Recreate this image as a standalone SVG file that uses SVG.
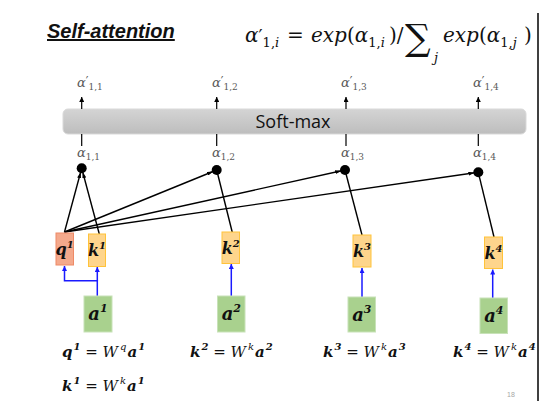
<svg xmlns="http://www.w3.org/2000/svg" width="543" height="401" viewBox="0 0 543 401">
<style>
.title{font-family:"Liberation Sans",Arial,sans-serif;font-weight:bold;font-style:italic;font-size:20px;fill:#111;text-decoration:underline}
.f{font-family:"DejaVu Serif",serif;font-style:italic;font-size:20px;fill:#111}
.fs{font-family:"DejaVu Serif",serif;font-style:italic;font-size:13px;fill:#111}
.fu{font-family:"DejaVu Serif",serif;font-style:normal;font-size:20px;fill:#111}
.sig{font-family:"DejaVu Serif",serif;font-style:normal;font-size:36px;fill:#111}
.up{font-style:normal}
.al{font-family:"DejaVu Serif",serif;font-style:italic;font-size:13px;fill:#595959}
.sm{font-size:9px;font-style:normal}
.pr{font-size:12px;font-style:normal}
.bx{font-family:"DejaVu Serif",serif;font-style:italic;font-weight:bold;font-size:16px;fill:#111}
.ba{font-family:"DejaVu Serif",serif;font-style:italic;font-weight:bold;font-size:18px;fill:#111}
.eq{font-family:"DejaVu Serif",serif;font-style:italic;font-size:15px;fill:#111}
.b{font-weight:bold}
.q{fill:#f4a98c;stroke:#ee8a66;stroke-width:1}
.k{fill:#fed58c;stroke:#ffc33a;stroke-width:1}
.a{fill:#a9d18e;stroke:#c8e2b8;stroke-width:1}
.bl{stroke:#000;stroke-width:1.4;fill:none}
.blue{stroke:#1a1aff;stroke-width:1.5;fill:none}
.tick{stroke:#000;stroke-width:1.2;fill:none}
</style>
<defs>
<marker id="ah" viewBox="0 0 6 4" refX="10" refY="2" markerWidth="6" markerHeight="4" markerUnits="userSpaceOnUse" orient="auto">
<path d="M0,0 L6,2 L0,4 z" fill="#000"/>
</marker>
<marker id="bh" viewBox="0 0 6 6" refX="6" refY="3" markerWidth="5" markerHeight="5" markerUnits="userSpaceOnUse" orient="auto">
<path d="M0,0 L6,3 L0,6 z" fill="#1a1aff"/>
</marker>
<marker id="th" viewBox="0 0 6 6" refX="6" refY="3" markerWidth="5" markerHeight="5" markerUnits="userSpaceOnUse" orient="auto">
<path d="M0,0 L6,3 L0,6 z" fill="#000"/>
</marker>
<linearGradient id="gg" x1="0" y1="0" x2="0" y2="1">
<stop offset="0" stop-color="#d4d4d4"/>
<stop offset="1" stop-color="#bdbdbd"/>
</linearGradient>
</defs>

<rect width="543" height="401" fill="#fff"/>
<line x1="538" y1="13" x2="538" y2="401" stroke="#000" stroke-width="1.5"/>

<g id="title">
<text class="title" x="47" y="38">Self-attention</text>
</g>

<g id="formula">
<text class="f" x="245" y="42">α<tspan class="up" style="font-size:18px" dx="0" dy="1">′</tspan><tspan class="fs" dx="0" dy="4" style="font-size:13px"><tspan class="up">1,</tspan>i</tspan></text>
<text class="fu" x="287" y="42">=</text>
<text class="f" x="311" y="42">exp<tspan class="up">(</tspan>α<tspan dy="5" style="font-size:13px"><tspan class="up">1,</tspan>i</tspan></text>
<text class="fu" x="389" y="42">)/</text>
<text class="sig" x="405" y="50">∑</text>
<text class="fs" x="434" y="62">j</text>
<text class="f" x="443" y="42">exp<tspan class="up">(</tspan>α<tspan dy="5" style="font-size:13px"><tspan class="up">1,</tspan>j</tspan></text>
<text class="fu" x="524" y="42">)</text>
</g>

<g id="softmax">
<rect x="63" y="109" width="463" height="25" rx="5" fill="url(#gg)" stroke="#d9d9d9" stroke-width="1"/>
<text x="293" y="128" text-anchor="middle" font-family="'Open Sans','Noto Sans',sans-serif" font-size="18" fill="#111">Soft-max</text>
</g>

<g id="connectors">
<line class="tick" x1="81.7" y1="109" x2="81.7" y2="97" marker-end="url(#th)"/>
<line class="tick" x1="216.7" y1="109" x2="216.7" y2="97" marker-end="url(#th)"/>
<line class="tick" x1="346" y1="109" x2="346" y2="97" marker-end="url(#th)"/>
<line class="tick" x1="478.3" y1="109" x2="478.3" y2="97" marker-end="url(#th)"/>
<line class="tick" x1="81.7" y1="134" x2="81.7" y2="146"/>
<line class="tick" x1="216.7" y1="134" x2="216.7" y2="146"/>
<line class="tick" x1="346" y1="134" x2="346" y2="146"/>
<line class="tick" x1="478.3" y1="134" x2="478.3" y2="146"/>

<line class="bl" x1="64.5" y1="232" x2="81.7" y2="168.3" marker-end="url(#ah)"/>
<line class="bl" x1="99.3" y1="234" x2="81.7" y2="168.3" marker-end="url(#ah)"/>
<line class="bl" x1="64.5" y1="232" x2="216.7" y2="170" marker-end="url(#ah)"/>
<line class="bl" x1="232.3" y1="232.5" x2="216.7" y2="170"/>
<line class="bl" x1="64.5" y1="232" x2="345" y2="170" marker-end="url(#ah)"/>
<line class="bl" x1="362" y1="235" x2="345" y2="170"/>
<line class="bl" x1="64.5" y1="232" x2="478.3" y2="172.3" marker-end="url(#ah)"/>
<line class="bl" x1="494" y1="237" x2="478.3" y2="172.3"/>

<path class="blue" d="M97.3,296 V280.7 H64.5 V266" marker-end="url(#bh)"/>
<path class="blue" d="M97.3,281 V267" marker-end="url(#bh)"/>
<line class="blue" x1="231.3" y1="296" x2="231.3" y2="264" marker-end="url(#bh)"/>
<line class="blue" x1="362" y1="297" x2="362" y2="268" marker-end="url(#bh)"/>
<line class="blue" x1="492.7" y1="298" x2="492.7" y2="269.5" marker-end="url(#bh)"/>
</g>

<g id="alpha-prime">
<text class="al" x="77" y="87">α<tspan class="pr" dy="-1">′</tspan><tspan class="sm" dy="4">1,1</tspan></text>
<text class="al" x="212" y="87">α<tspan class="pr" dy="-1">′</tspan><tspan class="sm" dy="4">1,2</tspan></text>
<text class="al" x="341" y="87">α<tspan class="pr" dy="-1">′</tspan><tspan class="sm" dy="4">1,3</tspan></text>
<text class="al" x="473" y="87">α<tspan class="pr" dy="-1">′</tspan><tspan class="sm" dy="4">1,4</tspan></text>
</g>

<g id="alpha">
<text class="al" x="77" y="157">α<tspan class="sm" dy="3">1,1</tspan></text>
<text class="al" x="212" y="157">α<tspan class="sm" dy="3">1,2</tspan></text>
<text class="al" x="341" y="157">α<tspan class="sm" dy="3">1,3</tspan></text>
<text class="al" x="473" y="157">α<tspan class="sm" dy="3">1,4</tspan></text>
</g>

<g id="dots">
<circle cx="81.7" cy="168.3" r="5" fill="#000"/>
<circle cx="216.7" cy="170" r="5" fill="#000"/>
<circle cx="345" cy="170" r="5" fill="#000"/>
<circle cx="478.3" cy="172.3" r="5" fill="#000"/>
</g>

<g id="q1"><rect class="q" x="56" y="233" width="17.5" height="32"/><text class="bx" x="64.7" y="255" text-anchor="middle">q<tspan font-size="10" dy="-7">1</tspan></text></g>
<g id="k1"><rect class="k" x="88.5" y="234" width="17" height="32.5"/><text class="bx" x="97" y="256" text-anchor="middle">k<tspan font-size="10" dy="-7">1</tspan></text></g>
<g id="k2"><rect class="k" x="222" y="232" width="17.5" height="31.5"/><text class="bx" x="230.8" y="254" text-anchor="middle">k<tspan font-size="10" dy="-7">2</tspan></text></g>
<g id="k3"><rect class="k" x="353" y="235" width="18" height="32"/><text class="bx" x="362" y="257" text-anchor="middle">k<tspan font-size="10" dy="-7">3</tspan></text></g>
<g id="k4"><rect class="k" x="484.5" y="237" width="18" height="31.5"/><text class="bx" x="493.5" y="259" text-anchor="middle">k<tspan font-size="10" dy="-7">4</tspan></text></g>

<g id="a1"><rect class="a" x="84" y="296" width="28" height="36"/><text class="ba" x="98" y="320" text-anchor="middle">a<tspan font-size="11" dy="-8">1</tspan></text></g>
<g id="a2"><rect class="a" x="217.5" y="296" width="27.5" height="36"/><text class="ba" x="231.3" y="320" text-anchor="middle">a<tspan font-size="11" dy="-8">2</tspan></text></g>
<g id="a3"><rect class="a" x="348" y="297" width="27.5" height="35"/><text class="ba" x="361.8" y="321" text-anchor="middle">a<tspan font-size="11" dy="-8">3</tspan></text></g>
<g id="a4"><rect class="a" x="480" y="298" width="27.5" height="35.5"/><text class="ba" x="493.8" y="322" text-anchor="middle">a<tspan font-size="11" dy="-8">4</tspan></text></g>

<g id="equations">
<text class="eq" x="62" y="357"><tspan class="b">q</tspan><tspan class="b" font-size="10" dx="1" dy="-7">1</tspan><tspan dy="7" font-style="normal"> = </tspan>W<tspan font-size="10" dx="2" dy="-7">q</tspan><tspan class="b" dx="1" dy="7">a</tspan><tspan class="b" font-size="10" dx="1" dy="-7">1</tspan></text>
<text class="eq" x="62" y="391"><tspan class="b">k</tspan><tspan class="b" font-size="10" dx="1" dy="-7">1</tspan><tspan dy="7" font-style="normal"> = </tspan>W<tspan font-size="10" dx="2" dy="-7">k</tspan><tspan class="b" dx="1" dy="7">a</tspan><tspan class="b" font-size="10" dx="1" dy="-7">1</tspan></text>
<text class="eq" x="190" y="357"><tspan class="b">k</tspan><tspan class="b" font-size="10" dx="1" dy="-7">2</tspan><tspan dy="7" font-style="normal"> = </tspan>W<tspan font-size="10" dx="2" dy="-7">k</tspan><tspan class="b" dx="1" dy="7">a</tspan><tspan class="b" font-size="10" dx="1" dy="-7">2</tspan></text>
<text class="eq" x="323" y="357"><tspan class="b">k</tspan><tspan class="b" font-size="10" dx="1" dy="-7">3</tspan><tspan dy="7" font-style="normal"> = </tspan>W<tspan font-size="10" dx="2" dy="-7">k</tspan><tspan class="b" dx="1" dy="7">a</tspan><tspan class="b" font-size="10" dx="1" dy="-7">3</tspan></text>
<text class="eq" x="453" y="357"><tspan class="b">k</tspan><tspan class="b" font-size="10" dx="1" dy="-7">4</tspan><tspan dy="7" font-style="normal"> = </tspan>W<tspan font-size="10" dx="2" dy="-7">k</tspan><tspan class="b" dx="1" dy="7">a</tspan><tspan class="b" font-size="10" dx="1" dy="-7">4</tspan></text>
</g>

<text x="507" y="397" font-family="'Liberation Sans',sans-serif" font-size="7" fill="#a6a6a6">18</text>
</svg>
